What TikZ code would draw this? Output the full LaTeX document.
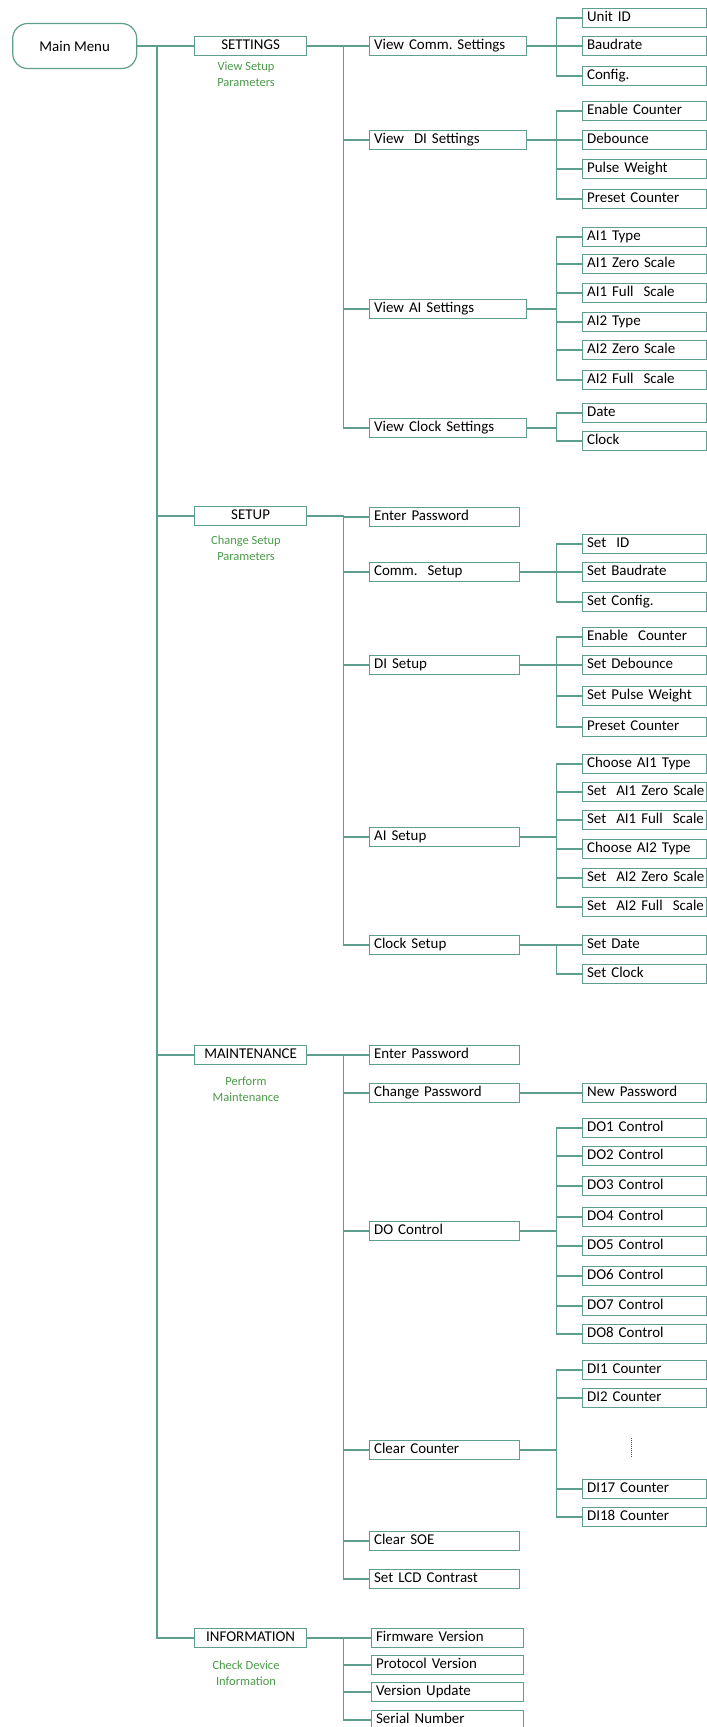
\documentclass[tikz,border=0pt]{standalone}
\usepackage{fontspec}
\setmainfont{Carlito}
\frenchspacing
\definecolor{linec}{HTML}{5E9E8E}
\definecolor{greent}{HTML}{4A9A48}
\begin{document}
\begin{tikzpicture}[x=1bp,y=-1bp,
  conn/.style={draw=linec, line width=1.2bp},
  box/.style={draw=linec, line width=1.2bp, font=\fontsize{15}{18}\selectfont,
    text height=11bp, text depth=3.5bp, inner ysep=2.25bp, inner xsep=4.5bp, align=left},
  mainbox/.style={draw=linec, line width=1.2bp, rounded corners=15bp, minimum width=124bp,
    minimum height=45bp, font=\fontsize{15}{18}\selectfont},
  topbox/.style={box, minimum width=112bp, align=center, anchor=west},
  l2s/.style={box, text width=148bp, anchor=west},
  l2/.style={box, text width=141bp, anchor=west},
  l2i/.style={box, text width=143bp, anchor=west},
  leaf/.style={box, text width=115bp, anchor=west},
  glabel/.style={text=greent, align=center, font=\fontsize{12.5}{16}\selectfont, inner sep=0pt}
]
\useasboundingbox (0,0) rectangle (707,1727);
\coordinate (v1) at (157,0);
\coordinate (v2) at (343.5,0);
\coordinate (v3) at (556.5,0);
\coordinate (dotA) at (631.5,1438);
\coordinate (dotB) at (631.5,1457);

% ---------- level 0 / 1
\node[mainbox] (main) at (74.7,46) {Main Menu};
\node[topbox] (settings) at (194,46) {SETTINGS};
\node[glabel] (settingsL) at (246,74.5) {View Setup\\Parameters};
\node[topbox] (setup) at (194,516) {SETUP};
\node[glabel] (setupL) at (246,548) {Change Setup\\Parameters};
\node[topbox] (maint) at (194,1055) {MAINTENANCE};
\node[glabel] (maintL) at (246,1089) {Perform\\Maintenance};
\node[topbox] (info) at (194,1638) {INFORMATION};
\node[glabel] (infoL) at (246,1673) {Check Device\\Information};

% ---------- SETTINGS
\node[l2s] (vcomm) at (369,46) {View Comm. Settings};
\node[l2s] (vdi) at (369,140) {View\ \ DI Settings};
\node[l2s] (vai) at (369,309) {View AI Settings};
\node[l2s] (vclk) at (369,428) {View Clock Settings};

\node[leaf] (uid) at (582,18) {Unit ID};
\node[leaf] (baud) at (582,46) {Baudrate};
\node[leaf] (cfg) at (582,76) {Config.};
\node[leaf] (enc) at (582,111) {Enable Counter};
\node[leaf] (deb) at (582,140) {Debounce};
\node[leaf] (pw) at (582,169) {Pulse Weight};
\node[leaf] (pc) at (582,199) {Preset Counter};
\node[leaf] (a1t) at (582,237) {AI1 Type};
\node[leaf] (a1z) at (582,264) {AI1 Zero Scale};
\node[leaf] (a1f) at (582,293) {AI1 Full\ \ Scale};
\node[leaf] (a2t) at (582,322) {AI2 Type};
\node[leaf] (a2z) at (582,350) {AI2 Zero Scale};
\node[leaf] (a2f) at (582,380) {AI2 Full\ \ Scale};
\node[leaf] (date) at (582,413) {Date};
\node[leaf] (clk) at (582,441) {Clock};

% ---------- SETUP
\node[l2] (sep) at (369,517) {Enter Password};
\node[l2] (csu) at (369,572) {Comm.\ \ Setup};
\node[l2] (disu) at (369,665) {DI Setup};
\node[l2] (aisu) at (369,837) {AI Setup};
\node[l2] (clsu) at (369,945) {Clock Setup};

\node[leaf] (sid) at (582,544) {Set\ \ ID};
\node[leaf] (sbaud) at (582,572) {Set Baudrate};
\node[leaf] (scfg) at (582,602) {Set Config.};
\node[leaf] (senc) at (582,637) {Enable\ \ Counter};
\node[leaf] (sdeb) at (582,665) {Set Debounce};
\node[leaf] (spw) at (582,696) {Set Pulse Weight};
\node[leaf] (spc) at (582,727) {Preset Counter};
\node[leaf] (ca1) at (582,764) {Choose AI1 Type};
\node[leaf] (s1z) at (582,792) {\mbox{Set\ \ AI1 Zero Scale}};
\node[leaf] (s1f) at (582,820) {\mbox{Set\ \ AI1 Full\ \ Scale}};
\node[leaf] (ca2) at (582,849) {Choose AI2 Type};
\node[leaf] (s2z) at (582,878) {\mbox{Set\ \ AI2 Zero Scale}};
\node[leaf] (s2f) at (582,907) {\mbox{Set\ \ AI2 Full\ \ Scale}};
\node[leaf] (sdate) at (582,945) {Set Date};
\node[leaf] (sclk) at (582,974) {Set Clock};

% ---------- MAINTENANCE
\node[l2] (mep) at (369,1055) {Enter Password};
\node[l2] (mcp) at (369,1093) {Change Password};
\node[l2] (mdo) at (369,1231) {DO Control};
\node[l2] (mcc) at (369,1450) {Clear Counter};
\node[l2] (msoe) at (369,1541) {Clear SOE};
\node[l2] (mlcd) at (369,1579) {Set LCD Contrast};

\node[leaf] (newp) at (582,1093) {New Password};
\node[leaf] (do1) at (582,1128) {DO1 Control};
\node[leaf] (do2) at (582,1156) {DO2 Control};
\node[leaf] (do3) at (582,1186) {DO3 Control};
\node[leaf] (do4) at (582,1217) {DO4 Control};
\node[leaf] (do5) at (582,1246) {DO5 Control};
\node[leaf] (do6) at (582,1276) {DO6 Control};
\node[leaf] (do7) at (582,1306) {DO7 Control};
\node[leaf] (do8) at (582,1334) {DO8 Control};
\node[leaf] (di1) at (582,1370) {DI1 Counter};
\node[leaf] (di2) at (582,1398) {DI2 Counter};
\node[leaf] (di17) at (582,1489) {DI17 Counter};
\node[leaf] (di18) at (582,1517) {DI18 Counter};

% ---------- INFORMATION
\node[l2i] (fw) at (371,1638) {Firmware Version};
\node[l2i] (pv) at (371,1665) {Protocol Version};
\node[l2i] (vu) at (371,1692) {Version Update};
\node[l2i] (sn) at (371,1720) {Serial Number};

% ---------- connectors
\foreach \c in {settings,setup,maint,info}
  \draw[conn] (main.east) -- (main.east -| v1) |- (\c.west);
\foreach \c in {vcomm,vdi,vai,vclk}
  \draw[conn] (settings.east) -- (settings.east -| v2) |- (\c.west);
\foreach \c in {sep,csu,disu,aisu,clsu}
  \draw[conn] (setup.east) -- (setup.east -| v2) |- (\c.west);
\foreach \c in {mep,mcp,mdo,mcc,msoe,mlcd}
  \draw[conn] (maint.east) -- (maint.east -| v2) |- (\c.west);
\foreach \c in {fw,pv,vu,sn}
  \draw[conn] (info.east) -- (info.east -| v2) |- (\c.west);

\foreach \c in {uid,baud,cfg}
  \draw[conn] (vcomm.east) -- (vcomm.east -| v3) |- (\c.west);
\foreach \c in {enc,deb,pw,pc}
  \draw[conn] (vdi.east) -- (vdi.east -| v3) |- (\c.west);
\foreach \c in {a1t,a1z,a1f,a2t,a2z,a2f}
  \draw[conn] (vai.east) -- (vai.east -| v3) |- (\c.west);
\foreach \c in {date,clk}
  \draw[conn] (vclk.east) -- (vclk.east -| v3) |- (\c.west);

\foreach \c in {sid,sbaud,scfg}
  \draw[conn] (csu.east) -- (csu.east -| v3) |- (\c.west);
\foreach \c in {senc,sdeb,spw,spc}
  \draw[conn] (disu.east) -- (disu.east -| v3) |- (\c.west);
\foreach \c in {ca1,s1z,s1f,ca2,s2z,s2f}
  \draw[conn] (aisu.east) -- (aisu.east -| v3) |- (\c.west);
\foreach \c in {sdate,sclk}
  \draw[conn] (clsu.east) -- (clsu.east -| v3) |- (\c.west);

\draw[conn] (mcp.east) -- (newp.west);
\foreach \c in {do1,do2,do3,do4,do5,do6,do7,do8}
  \draw[conn] (mdo.east) -- (mdo.east -| v3) |- (\c.west);
\foreach \c in {di1,di2,di17,di18}
  \draw[conn] (mcc.east) -- (mcc.east -| v3) |- (\c.west);
\draw[draw=black!70, line width=0.8bp, dash pattern=on 0.8bp off 1.2bp] (dotA) -- (dotB);
\end{tikzpicture}
\end{document}
